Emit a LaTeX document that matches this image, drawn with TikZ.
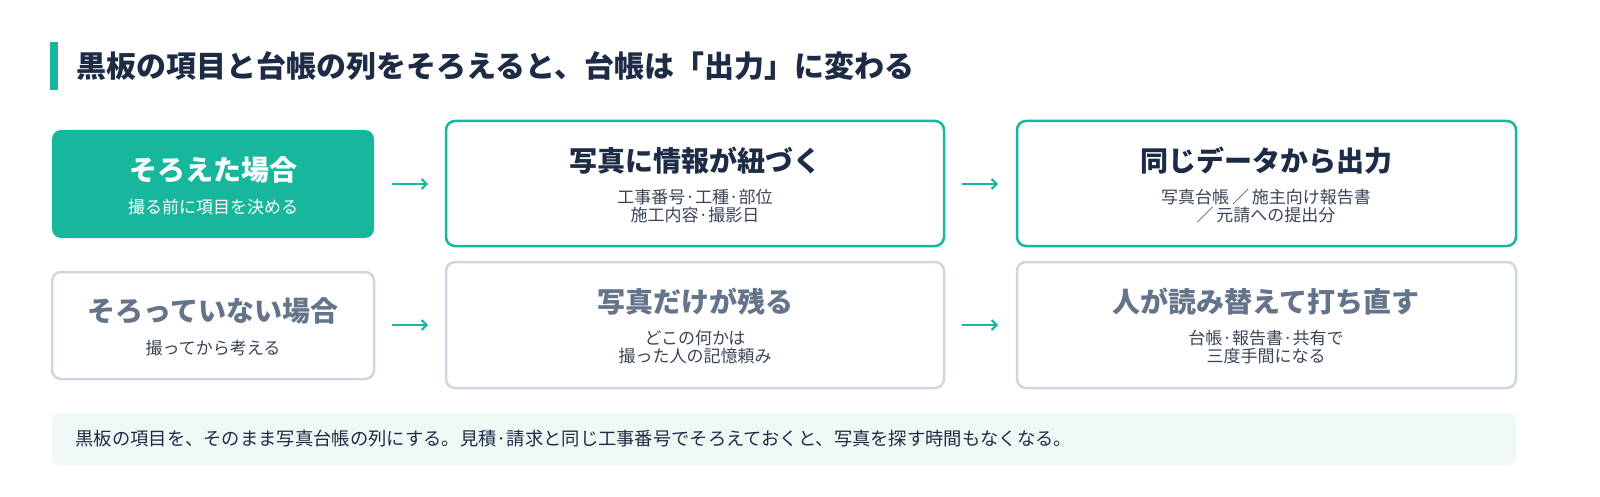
\documentclass[tikz,border=0pt]{standalone}
\usepackage{fontspec}
\usetikzlibrary{arrows.meta}
\setmainfont{Noto Sans CJK JP}
\definecolor{teal}{HTML}{17B79D}
\definecolor{navy}{HTML}{1E2B45}
\definecolor{gline}{HTML}{CFD6DF}
\definecolor{gtext}{HTML}{64748B}
\definecolor{dtext}{HTML}{3B4556}
\definecolor{mint}{HTML}{EEF9F6}
\begin{document}%
\begin{tikzpicture}[x=1pt,y=-1pt,
 box/.style={draw=teal,line width=2.5pt,rounded corners=9pt,fill=white},
 gbox/.style={draw=gline,line width=2.5pt,rounded corners=9pt,fill=white},
 fbox/.style={fill=teal,rounded corners=9pt},
 arr/.style={teal,line width=2pt,-{Straight Barb[length=5pt,width=10pt]}},
 head/.style={font=\fontsize{28}{32}\selectfont\bfseries},
 sub/.style={font=\fontsize{17}{18}\selectfont,align=center}]
\useasboundingbox (0,0) rectangle (1600,497);
\fill[white] (0,0) rectangle (1600,497);
\fill[teal] (50,42) rectangle (58,90);
\node[anchor=west,text=navy,font=\fontsize{30}{34}\selectfont\bfseries] (title) at (73,66) {黒板の項目と台帳の列をそろえると、台帳は「出力」に変わる};
% row 1
\fill[fbox] (52,130) rectangle (374,238);
\node[head,text=white] (a1) at (213,170) {そろえた場合};
\node[sub,text=white] (a1s) at (213,207) {撮る前に項目を決める};
\draw[box] (446,121) rectangle (944,246);
\node[head,text=navy] (b1) at (695,161) {写真に情報が紐づく};
\node[sub,text=dtext] (b1s) at (695,206) {工事番号·工種·部位\\施工内容·撮影日};
\draw[box] (1017,121) rectangle (1516,246);
\node[head,text=navy] (c1) at (1266,161) {同じデータから出力};
\node[sub,text=dtext] (c1s) at (1266,206) {写真台帳\,／\,施主向け報告書\\／\,元請への提出分};
% row 2
\draw[gbox] (52,272) rectangle (374,379);
\node[head,text=gtext] (a2) at (213,311) {そろっていない場合};
\node[sub,text=dtext] (a2s) at (213,348) {撮ってから考える};
\draw[gbox] (446,262) rectangle (944,388);
\node[head,text=gtext] (b2) at (695,302) {写真だけが残る};
\node[sub,text=dtext] (b2s) at (695,347) {どこの何かは\\撮った人の記憶頼み};
\draw[gbox] (1017,262) rectangle (1516,388);
\node[head,text=gtext] (c2) at (1266,302) {人が読み替えて打ち直す};
\node[sub,text=dtext] (c2s) at (1266,347) {台帳·報告書·共有で\\三度手間になる};
% arrows
\coordinate (p1) at (392,184); \coordinate (q1) at (428,184);
\coordinate (p2) at (962,184); \coordinate (q2) at (998,184);
\coordinate (p3) at (392,325); \coordinate (q3) at (428,325);
\coordinate (p4) at (962,325); \coordinate (q4) at (998,325);
\draw[arr] (p1) -- (q1); \draw[arr] (p2) -- (q2);
\draw[arr] (p3) -- (q3); \draw[arr] (p4) -- (q4);
% footer
\fill[mint,rounded corners=8pt] (52,413) rectangle (1516,465);
\node[anchor=west,text=navy,font=\fontsize{18.3}{20}\selectfont] (foot) at (72,439) {黒板の項目を、そのまま写真台帳の列にする。見積·請求と同じ工事番号でそろえておくと、写真を探す時間もなくなる。};
\end{tikzpicture}%
\end{document}
